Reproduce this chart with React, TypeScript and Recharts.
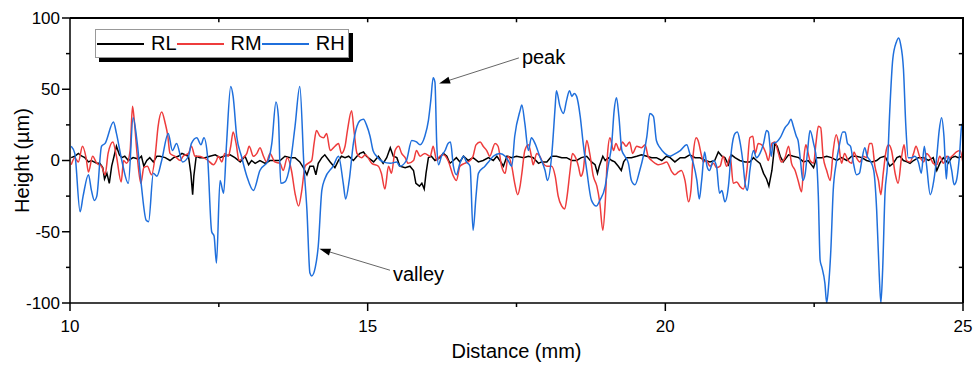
import { Label, Legend, Line, LineChart, ReferenceLine, XAxis, YAxis } from "recharts";

const FONT = "'Liberation Sans', Arial, Helvetica, sans-serif";

// [distance (mm), height (µm)]
const RL: [number, number][] = [
  [10.02, 2], [10.08, 3], [10.14, 5], [10.2, 3], [10.25, 2], [10.31, -1], [10.36, 0], [10.45, -2], [10.5, -2],
  [10.55, -5], [10.58, -13], [10.62, -9], [10.66, -16], [10.7, -4], [10.74, 3], [10.78, 10], [10.83, 4], [10.87, 2],
  [10.92, 3], [10.98, 0], [11.06, 2], [11.15, 1], [11.2, 3], [11.24, -4], [11.29, 0], [11.34, 2], [11.4, -1],
  [11.46, 3], [11.51, 3], [11.6, 2], [11.68, 0], [11.74, 2], [11.82, 3], [11.88, 5], [11.93, 4], [11.99, 3],
  [12.03, -9], [12.06, -24], [12.08, -11], [12.12, 3], [12.18, 2], [12.27, 2], [12.35, 3], [12.44, 4], [12.52, 2],
  [12.58, 3], [12.69, 4], [12.77, 2], [12.86, -1], [12.94, 3], [13.0, -3], [13.05, 0], [13.11, -2], [13.19, 0],
  [13.28, -2], [13.36, 0], [13.44, 0], [13.53, 0], [13.61, 3], [13.7, 2], [13.78, 2], [13.86, -1], [13.92, -5],
  [13.98, -10], [14.03, -4], [14.09, -4], [14.13, -10], [14.17, -2], [14.23, 2], [14.28, 4], [14.37, -1], [14.45, -5],
  [14.51, 0], [14.56, 3], [14.62, 2], [14.68, 3], [14.76, 0], [14.82, 3], [14.87, 5], [14.93, 6], [14.98, 3],
  [15.1, -1], [15.18, 3], [15.26, -2], [15.32, 2], [15.38, 9], [15.43, 3], [15.49, 2], [15.54, -4], [15.63, -5],
  [15.71, -4], [15.77, -7], [15.81, -16], [15.87, -18], [15.91, -16], [15.95, -20], [15.98, -9], [16.02, 2],
  [16.07, 3], [16.13, 0], [16.21, 2], [16.27, 5], [16.33, 3], [16.38, -2], [16.44, 0], [16.49, 2], [16.55, -1],
  [16.61, 3], [16.69, 0], [16.77, 2], [16.86, -1], [16.94, 0], [17.03, 2], [17.11, 0], [17.17, 3], [17.22, 0],
  [17.28, -4], [17.34, 3], [17.42, 2], [17.5, 3], [17.62, 2], [17.7, 3], [17.78, 2], [17.87, -2], [17.92, -1],
  [18.01, -1], [18.09, 3], [18.17, 3], [18.26, 2], [18.34, 2], [18.43, 0], [18.51, 0], [18.59, 2], [18.68, 3],
  [18.76, -1], [18.82, -3], [18.86, -9], [18.89, -4], [18.95, 3], [18.99, 0], [19.04, 2], [19.1, 0], [19.15, -1],
  [19.21, -4], [19.26, -7], [19.3, -1], [19.35, 2], [19.43, 2], [19.52, 3], [19.6, 4], [19.69, 3], [19.77, 2],
  [19.85, 2], [19.94, 0], [20.02, 3], [20.08, 2], [20.16, -1], [20.25, 2], [20.33, 2], [20.41, 4], [20.5, 2],
  [20.58, 2], [20.67, 0], [20.75, -1], [20.83, 0], [20.89, 6], [20.95, 3], [21.0, 2], [21.06, -3], [21.11, 4],
  [21.17, 2], [21.25, 0], [21.34, -1], [21.42, -1], [21.48, 2], [21.53, 0], [21.59, -2], [21.65, -9], [21.7, -13],
  [21.74, -18], [21.79, -7], [21.84, 12], [21.88, 10], [21.93, 3], [21.98, -1], [22.07, 4], [22.15, 3], [22.24, 2],
  [22.32, -1], [22.4, 0], [22.49, -5], [22.54, 2], [22.63, 2], [22.71, 3], [22.79, 2], [22.88, 0], [22.96, 2],
  [23.05, 0], [23.13, 3], [23.21, 3], [23.3, 2], [23.38, 0], [23.47, -1], [23.55, 0], [23.61, 2], [23.69, 3],
  [23.77, -4], [23.83, -2], [23.89, 2], [23.94, 3], [24.0, 0], [24.06, -1], [24.11, -2], [24.17, 0], [24.25, 2],
  [24.34, 2], [24.42, 0], [24.5, 2], [24.56, -7], [24.61, -2], [24.67, 2], [24.75, -2], [24.81, 2], [24.87, 3],
  [24.92, 2], [25.0, 3],
];

const RM: [number, number][] = [
  [10.02, -3], [10.08, 2], [10.14, -1], [10.21, 10], [10.27, 2], [10.31, -8], [10.38, 3], [10.45, -2], [10.53, -4],
  [10.59, -10], [10.64, 5], [10.72, 13], [10.78, 3], [10.86, -15], [10.9, 0], [10.95, -2], [11.01, 7], [11.05, 38],
  [11.08, 28], [11.13, 3], [11.19, -16], [11.24, -5], [11.3, -4], [11.37, -10], [11.43, 3], [11.48, 24], [11.54, 34],
  [11.6, 26], [11.64, 18], [11.68, 5], [11.76, 3], [11.85, 0], [11.9, 3], [11.99, 5], [12.04, 10], [12.1, 3],
  [12.16, 3], [12.24, 2], [12.32, 0], [12.41, -3], [12.46, 0], [12.49, 3], [12.55, -1], [12.6, 5], [12.66, 3],
  [12.7, 10], [12.74, 20], [12.79, 12], [12.84, 0], [12.91, 2], [12.97, 5], [13.01, 10], [13.08, 3], [13.14, 5],
  [13.19, 9], [13.25, 3], [13.3, -1], [13.36, 5], [13.44, -1], [13.53, -2], [13.58, -7], [13.65, 2], [13.72, -7],
  [13.78, -23], [13.84, -32], [13.89, -22], [13.95, -4], [14.0, -2], [14.06, 0], [14.1, 12], [14.14, 21], [14.2, 17],
  [14.26, 16], [14.31, 19], [14.37, 7], [14.45, 10], [14.51, 12], [14.56, 5], [14.62, 10], [14.66, 21], [14.73, 35],
  [14.77, 21], [14.82, 5], [14.9, 2], [14.96, 4], [15.07, -2], [15.18, -4], [15.23, -9], [15.29, -20], [15.35, -4],
  [15.4, -9], [15.46, 7], [15.52, 10], [15.57, 5], [15.63, 2], [15.68, -2], [15.77, 0], [15.82, 7], [15.88, 3],
  [15.96, 5], [16.05, 3], [16.1, 10], [16.16, 0], [16.21, 3], [16.27, 4], [16.35, 0], [16.44, -11], [16.49, -14],
  [16.55, -4], [16.63, -2], [16.72, 0], [16.77, 3], [16.82, 11], [16.89, 13], [16.94, 10], [17.0, 7], [17.05, 3],
  [17.14, 12], [17.19, 10], [17.25, -4], [17.31, -9], [17.36, 3], [17.42, -4], [17.47, -16], [17.52, -24],
  [17.56, -18], [17.59, -9], [17.64, 7], [17.7, 11], [17.75, 3], [17.78, -3], [17.84, 5], [17.89, 3], [17.95, -2],
  [18.01, -4], [18.09, -4], [18.15, -11], [18.2, -25], [18.26, -32], [18.31, -34], [18.35, -25], [18.4, -7],
  [18.44, 5], [18.48, 3], [18.54, -4], [18.58, -11], [18.62, -7], [18.68, 14], [18.73, 5], [18.79, -11], [18.85, -18],
  [18.9, -30], [18.95, -49], [18.99, -30], [19.03, 5], [19.07, 16], [19.13, 7], [19.17, 12], [19.23, 7], [19.28, 13],
  [19.34, 10], [19.4, 13], [19.45, 5], [19.52, 10], [19.6, 9], [19.66, 11], [19.71, 3], [19.77, 0], [19.83, -2],
  [19.88, -3], [19.97, -2], [20.02, -1], [20.11, -8], [20.16, -10], [20.22, -8], [20.27, -7], [20.33, -14],
  [20.39, -29], [20.43, -21], [20.47, 5], [20.52, 16], [20.55, 14], [20.61, 3], [20.64, -1], [20.69, 0], [20.75, -4],
  [20.81, -2], [20.86, -5], [20.92, -4], [20.97, 3], [21.03, -4], [21.09, 3], [21.14, -16], [21.2, -15], [21.25, -18],
  [21.31, -20], [21.37, -7], [21.42, 16], [21.47, 17], [21.51, 5], [21.56, 12], [21.62, 11], [21.69, 5], [21.73, 0],
  [21.79, 12], [21.84, 13], [21.9, 5], [21.95, -1], [22.01, 2], [22.07, 10], [22.12, -2], [22.18, -7], [22.23, -14],
  [22.29, -22], [22.33, 3], [22.36, 11], [22.4, 5], [22.43, 0], [22.49, -2], [22.53, 12], [22.57, 24], [22.61, 23],
  [22.65, 3], [22.71, -7], [22.77, -14], [22.82, 7], [22.87, 18], [22.91, 12], [22.96, -2], [23.01, 5], [23.07, 0],
  [23.13, -2], [23.17, 6], [23.21, 2], [23.27, -1], [23.32, 3], [23.38, 2], [23.43, 12], [23.47, 12], [23.52, -4],
  [23.58, -14], [23.62, -24], [23.66, -9], [23.71, 7], [23.75, 11], [23.8, 7], [23.86, -9], [23.91, -16], [23.97, 3],
  [24.01, 11], [24.05, 0], [24.11, -1], [24.17, 5], [24.21, 10], [24.27, 3], [24.34, -1], [24.39, 5], [24.45, 2],
  [24.5, -2], [24.56, -3], [24.61, 3], [24.67, -2], [24.73, 3], [24.78, 2], [24.84, 4], [24.89, 6], [24.95, 7],
  [25.0, -2],
];

const RH: [number, number][] = [
  [10.02, 10], [10.08, 5], [10.17, -36], [10.22, -25], [10.31, -10], [10.36, -21], [10.41, -28], [10.45, -25],
  [10.53, 10], [10.59, 12], [10.73, 27], [10.78, 19], [10.87, 0], [10.98, -16], [11.06, 30], [11.13, 12], [11.2, -18],
  [11.28, -42], [11.32, -43], [11.4, -9], [11.46, -11], [11.54, 0], [11.65, 19], [11.72, 7], [11.79, 12], [11.89, -1],
  [11.99, 3], [12.04, 12], [12.13, 16], [12.2, 11], [12.25, 16], [12.31, 3], [12.38, -50], [12.42, -53], [12.46, -72],
  [12.52, -14], [12.58, -23], [12.63, 12], [12.7, 52], [12.74, 45], [12.8, 17], [12.88, 3], [12.97, -11], [13.08, -21],
  [13.19, -7], [13.33, 0], [13.39, 12], [13.46, 41], [13.5, 31], [13.54, -16], [13.61, -15], [13.7, -2], [13.78, 24],
  [13.86, 52], [13.93, -4], [13.98, -35], [14.03, -79], [14.06, -81], [14.12, -75], [14.17, -60], [14.23, -21],
  [14.28, -13], [14.42, -4], [14.51, 3], [14.59, -16], [14.63, -27], [14.69, -14], [14.76, 12], [14.82, 24],
  [14.87, 28], [14.93, 29], [14.98, 25], [15.04, 17], [15.09, 7], [15.15, 3], [15.26, -1], [15.38, -2], [15.49, -1],
  [15.54, -4], [15.65, 0], [15.74, 14], [15.82, 13], [15.88, 11], [15.96, 17], [16.02, 28], [16.06, 42], [16.1, 58],
  [16.13, 55], [16.16, 12], [16.19, -3], [16.24, 3], [16.3, 7], [16.35, 12], [16.39, 13], [16.44, -4], [16.49, -10],
  [16.55, -2], [16.61, 3], [16.66, -1], [16.72, -4], [16.77, -49], [16.82, -25], [16.86, -9], [16.97, -4], [17.03, -1],
  [17.11, 3], [17.22, 5], [17.31, 3], [17.36, 0], [17.42, -4], [17.47, 17], [17.56, 35], [17.59, 39], [17.64, 26],
  [17.7, 7], [17.75, 16], [17.81, 12], [17.89, 3], [17.98, -7], [18.02, -14], [18.09, 3], [18.15, 38], [18.17, 49],
  [18.23, 38], [18.29, 33], [18.34, 42], [18.39, 49], [18.43, 45], [18.47, 47], [18.51, 45], [18.57, 31], [18.62, 12],
  [18.68, -7], [18.76, -28], [18.84, -32], [18.9, -28], [18.99, -18], [19.04, -4], [19.1, 12], [19.14, 35], [19.18, 44],
  [19.22, 31], [19.27, 7], [19.32, 3], [19.38, -2], [19.43, -14], [19.49, -17], [19.57, -7], [19.63, 3], [19.69, 17],
  [19.74, 33], [19.8, 31], [19.85, 14], [19.91, 9], [19.99, 5], [20.08, 3], [20.13, 4], [20.25, 7], [20.36, 11],
  [20.41, 5], [20.47, -2], [20.53, -14], [20.57, -27], [20.61, -14], [20.66, 6], [20.7, -4], [20.74, -7], [20.81, 0],
  [20.86, -4], [20.91, -23], [20.95, -21], [21.0, -29], [21.06, -18], [21.11, 7], [21.17, 19], [21.21, 20], [21.25, 14],
  [21.3, 0], [21.34, -16], [21.38, -21], [21.42, -7], [21.48, 7], [21.53, 2], [21.59, 5], [21.65, 12], [21.7, 21],
  [21.73, 20], [21.78, 3], [21.81, 12], [21.87, 13], [21.93, 16], [22.01, 23], [22.07, 26], [22.11, 29], [22.15, 24],
  [22.2, 17], [22.23, 14], [22.27, 0], [22.31, -14], [22.35, -9], [22.39, 7], [22.43, 21], [22.49, 12], [22.54, 0],
  [22.57, -25], [22.6, -70], [22.63, -75], [22.68, -86], [22.71, -100], [22.74, -89], [22.78, -63], [22.82, -21],
  [22.87, -2], [22.92, 10], [22.98, 20], [23.02, 20], [23.06, 12], [23.11, 10], [23.16, -2], [23.21, -10], [23.26, -9],
  [23.3, 0], [23.35, 9], [23.39, 3], [23.44, 0], [23.5, -7], [23.55, -35], [23.59, -77], [23.62, -100], [23.65, -77],
  [23.69, -23], [23.73, -4], [23.77, 35], [23.82, 71], [23.88, 83], [23.92, 86], [23.95, 82], [24.0, 64], [24.04, 24],
  [24.08, 2], [24.14, 2], [24.19, 3], [24.25, -1], [24.3, -9], [24.35, 10], [24.39, -4], [24.45, -24], [24.51, -14],
  [24.56, 3], [24.6, 21], [24.64, 30], [24.68, 17], [24.72, -13], [24.75, 3], [24.81, -7], [24.85, -17], [24.89, -14],
  [24.94, 3], [24.98, 25], [25.0, 26],
];

const X_TICKS = [10, 12.5, 15, 17.5, 20, 22.5, 25];
const Y_TICKS = [-100, -75, -50, -25, 0, 25, 50, 75, 100];
const TOP_TICKS = [12.5, 15, 17.5, 20, 22.5];
const RIGHT_TICKS = [-75, -25, 25, 75];

const SERIES = [
  { name: "RL", data: RL, color: "#000000", curve: "linear" as const },
  { name: "RM", data: RM, color: "#ee3c3c", curve: "monotone" as const },
  { name: "RH", data: RH, color: "#1f6fdc", curve: "monotone" as const },
];

const NOTES = [
  { text: "peak", from: { x: 17.54, y: 72 }, to: { x: 16.2, y: 54 }, dy: 6 },
  { text: "valley", from: { x: 15.375, y: -77 }, to: { x: 14.19, y: -62 }, dy: 11 },
];

// plot rectangle inside the 973x366 chart
const PLOT = { left: 70, top: 18, right: 963, bottom: 303 };

const AXIS = { stroke: "#000", strokeWidth: 1.5 };

const toPoints = (arr: [number, number][]) => arr.map(([x, y]) => ({ x, y }));

const bottomTick = ({ x, y, payload }: any) => {
  const major = payload.value % 5 === 0;
  return (
    <g>
      <line x1={x} x2={x} y1={y} y2={y + (major ? 8 : 4)} stroke="#000" strokeWidth={1.5} />
      {major && (
        <text x={x} y={y + 29} textAnchor="middle" fontSize={17} fontFamily={FONT} fill="#000">
          {payload.value}
        </text>
      )}
    </g>
  );
};

const leftTick = ({ x, y, payload }: any) => {
  const major = payload.value % 50 === 0;
  return (
    <g>
      <line x1={x - (major ? 8 : 4)} x2={x} y1={y} y2={y} stroke="#000" strokeWidth={1.5} />
      {major && (
        <text x={x - 10} y={y} dy="0.35em" textAnchor="end" fontSize={17} fontFamily={FONT} fill="#000">
          {payload.value}
        </text>
      )}
    </g>
  );
};

const tickShape = (p: any) => (
  <line x1={p.x1} y1={p.y1} x2={p.x2} y2={p.y2} stroke="#000" strokeWidth={1.5} />
);

const xTitle = ({ viewBox }: any) => (
  <text x={viewBox.x + viewBox.width / 2} y={358} textAnchor="middle" fontSize={20} fontFamily={FONT} fill="#000">
    Distance (mm)
  </text>
);

const yTitle = ({ viewBox }: any) => {
  const cx = viewBox.x + 22;
  const cy = viewBox.y + viewBox.height / 2;
  return (
    <text
      x={cx}
      y={cy}
      dy="0.35em"
      transform={`rotate(-90 ${cx} ${cy})`}
      textAnchor="middle"
      fontSize={20}
      fontFamily={FONT}
      fill="#000"
    >
      Height (µm)
    </text>
  );
};

const arrowShape = (text: string, dy: number) => (p: any) => {
  const { x1, y1, x2, y2 } = p;
  if ([x1, y1, x2, y2].some((v) => typeof v !== "number")) return <g />;
  const a = Math.atan2(y2 - y1, x2 - x1);
  const c = Math.cos(a);
  const s = Math.sin(a);
  const bx = x2 - 11 * c;
  const by = y2 - 11 * s;
  const head = `${x2},${y2} ${bx - 3.5 * s},${by + 3.5 * c} ${bx + 3.5 * s},${by - 3.5 * c}`;
  return (
    <g>
      <line x1={x1} y1={y1} x2={bx} y2={by} stroke="#666" strokeWidth={1} />
      <polygon points={head} fill="#000" />
      <text x={x1 + 3} y={y1 + dy} fontSize={20} fontFamily={FONT} fill="#000">
        {text}
      </text>
    </g>
  );
};

const LegendBox = () => (
  <div
    style={{
      display: "flex",
      alignItems: "center",
      height: 27,
      padding: "0 3px 0 1px",
      border: "1px solid #999",
      background: "#fff",
      boxShadow: "4px 4px 0 #000",
      fontFamily: FONT,
      fontSize: 20,
      color: "#000",
      whiteSpace: "nowrap",
    }}
  >
    {SERIES.map((s) => (
      <div key={s.name} style={{ display: "flex", alignItems: "center" }}>
        <span style={{ display: "inline-block", width: 47, height: 2, background: s.color, marginRight: 7 }} />
        <span>{s.name}</span>
      </div>
    ))}
  </div>
);

export default function App() {
  return (
    <div style={{ position: "relative", width: 973, height: 366, background: "#fff" }}>
      <style>{`body{margin:0;background:#fff}`}</style>
      <LineChart
        width={973}
        height={366}
        margin={{ top: PLOT.top, right: 973 - PLOT.right, bottom: 0, left: 0 }}
      >
        <XAxis
          type="number"
          dataKey="x"
          domain={[10, 25]}
          ticks={X_TICKS}
          interval={0}
          allowDataOverflow
          height={366 - PLOT.bottom}
          tickSize={0}
          tickMargin={0}
          tick={bottomTick}
          axisLine={AXIS}
        >
          <Label content={xTitle} />
        </XAxis>
        <YAxis
          type="number"
          domain={[-100, 100]}
          ticks={Y_TICKS}
          interval={0}
          allowDataOverflow
          width={PLOT.left}
          tickSize={0}
          tickMargin={0}
          tick={leftTick}
          axisLine={AXIS}
        >
          <Label content={yTitle} />
        </YAxis>
        {SERIES.map((s) => (
          <Line
            key={s.name}
            name={s.name}
            data={toPoints(s.data)}
            dataKey="y"
            type={s.curve}
            stroke={s.color}
            strokeWidth={1.5}
            dot={false}
            activeDot={false}
            isAnimationActive={false}
          />
        ))}
        {TOP_TICKS.map((t) => (
          <ReferenceLine
            key={`tx${t}`}
            segment={[{ x: t, y: 97 }, { x: t, y: 99.99 }]}
            ifOverflow="visible"
            shape={tickShape}
          />
        ))}
        {RIGHT_TICKS.map((t) => (
          <ReferenceLine
            key={`ty${t}`}
            segment={[{ x: 24.93, y: t }, { x: 24.999, y: t }]}
            ifOverflow="visible"
            shape={tickShape}
          />
        ))}
        {NOTES.map((n) => (
          <ReferenceLine
            key={n.text}
            segment={[n.from, n.to]}
            ifOverflow="visible"
            shape={arrowShape(n.text, n.dy)}
          />
        ))}
        <Legend
          layout="vertical"
          align="center"
          verticalAlign="middle"
          wrapperStyle={{ left: 95, top: 29, width: "auto", height: "auto" }}
          content={() => <LegendBox />}
        />
      </LineChart>
      {/* top and right edges of the axis frame */}
      <div
        style={{
          position: "absolute",
          left: PLOT.left,
          top: PLOT.top - 1,
          width: PLOT.right - PLOT.left + 1,
          height: PLOT.bottom - PLOT.top + 1,
          borderTop: "2px solid #000",
          borderRight: "2px solid #000",
          boxSizing: "border-box",
          pointerEvents: "none",
        }}
      />
    </div>
  );
}
